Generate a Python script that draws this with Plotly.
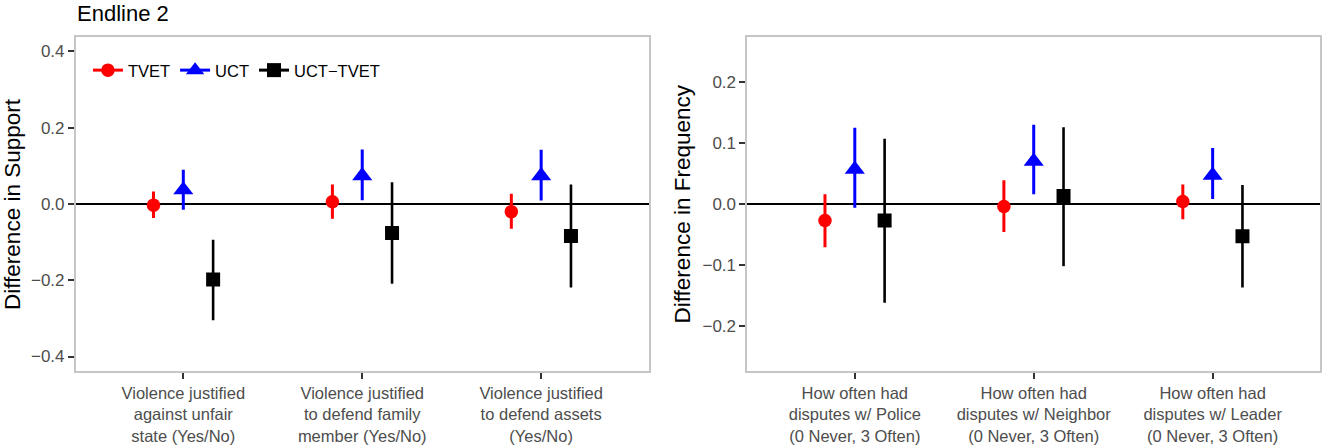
import plotly.graph_objects as go

# ---------------- data ----------------
left_categories = [
    "Violence justified<br>against unfair<br>state (Yes/No)",
    "Violence justified<br>to defend family<br>member (Yes/No)",
    "Violence justified<br>to defend assets<br>(Yes/No)",
]
right_categories = [
    "How often had<br>disputes w/ Police<br>(0 Never, 3 Often)",
    "How often had<br>disputes w/ Neighbor<br>(0 Never, 3 Often)",
    "How often had<br>disputes w/ Leader<br>(0 Never, 3 Often)",
]
series_names = ["TVET", "UCT", "UCT\u2212TVET"]

# Left panel: Difference in Support
left_tvet_est = [-0.003, 0.006, -0.020]
left_tvet_lo = [-0.037, -0.039, -0.065]
left_tvet_hi = [0.033, 0.051, 0.027]
left_uct_est = [0.037, 0.074, 0.074]
left_uct_lo = [-0.015, 0.010, 0.009]
left_uct_hi = [0.090, 0.143, 0.142]
left_diff_est = [-0.198, -0.076, -0.084]
left_diff_lo = [-0.305, -0.209, -0.219]
left_diff_hi = [-0.094, 0.057, 0.051]

# Right panel: Difference in Frequency
right_tvet_est = [-0.027, -0.004, 0.004]
right_tvet_lo = [-0.071, -0.046, -0.025]
right_tvet_hi = [0.016, 0.039, 0.032]
right_uct_est = [0.057, 0.070, 0.047]
right_uct_lo = [-0.006, 0.016, 0.008]
right_uct_hi = [0.125, 0.130, 0.092]
right_diff_est = [-0.027, 0.013, -0.053]
right_diff_lo = [-0.162, -0.102, -0.137]
right_diff_hi = [0.107, 0.126, 0.031]

left_yticks = [-0.4, -0.2, 0.0, 0.2, 0.4]
right_yticks = [-0.2, -0.1, 0.0, 0.1, 0.2]

# ---------------- style ----------------
colors = ["#ff0000", "#0000ff", "#000000"]
symbols = ["circle", "triangle-up", "square"]
msizes = [13.5, 17.5, 14]
bar_w = [3, 3, 2.6]
dodge = [-1 / 6, 0.0, 1 / 6]
FONT = "Liberation Sans, Arial, Helvetica, sans-serif"
W, H = 1322, 445
T, B = 37, 68
plot_h = H - T - B

fig = go.Figure()


def add_panel(xa, ya, series):
    for k, (est, lo, hi) in enumerate(series):
        xs = [i + 1 + dodge[k] for i in range(len(est))]
        fig.add_trace(go.Scatter(
            x=xs, y=est, mode="markers", xaxis=xa, yaxis=ya,
            showlegend=False, hoverinfo="skip",
            marker=dict(symbol=symbols[k], size=msizes[k], color=colors[k],
                        line=dict(width=0)),
            error_y=dict(type="data", symmetric=False,
                         array=[h - e for h, e in zip(hi, est)],
                         arrayminus=[e - l for e, l in zip(est, lo)],
                         width=0, thickness=bar_w[k], color=colors[k]),
        ))


add_panel("x", "y", [
    (left_tvet_est, left_tvet_lo, left_tvet_hi),
    (left_uct_est, left_uct_lo, left_uct_hi),
    (left_diff_est, left_diff_lo, left_diff_hi),
])
add_panel("x2", "y2", [
    (right_tvet_est, right_tvet_lo, right_tvet_hi),
    (right_uct_est, right_uct_lo, right_uct_hi),
    (right_diff_est, right_diff_lo, right_diff_hi),
])

# legend-only entries (line through marker like ggplot pointrange key)
for k, name in enumerate(series_names):
    fig.add_trace(go.Scatter(
        x=[None], y=[None], mode="lines+markers", name=name,
        xaxis="x", yaxis="y",
        line=dict(color=colors[k], width=3),
        marker=dict(symbol=symbols[k], size=msizes[k], color=colors[k]),
    ))

axis_common = dict(
    showline=True, linecolor="#c6c6c6", linewidth=2, mirror=True,
    ticks="outside", ticklen=6, tickwidth=1.6, tickcolor="#333333",
    showgrid=False,
)
ytickfont = dict(family=FONT, size=17, color="#4d4d4d")
xtickfont = dict(family=FONT, size=16.5, color="#4d4d4d")

fig.update_layout(
    width=W, height=H,
    margin=dict(l=0, r=0, t=T, b=B),
    paper_bgcolor="white", plot_bgcolor="white",
    font=dict(family=FONT, color="black"),
    xaxis=dict(domain=[76 / W, 649 / W], range=[0.4, 3.6],
               tickvals=[1, 2, 3], ticktext=left_categories,
               tickfont=xtickfont, zeroline=False, anchor="y", **axis_common),
    yaxis=dict(domain=[0, 1], range=[-0.438, 0.438], tickvals=left_yticks,
               tickformat=".1f", tickfont=ytickfont,
               zeroline=True, zerolinecolor="black",
               zerolinewidth=2, anchor="x", **axis_common),
    xaxis2=dict(domain=[748 / W, 1321 / W], range=[0.4, 3.6],
                tickvals=[1, 2, 3], ticktext=right_categories,
                tickfont=xtickfont, zeroline=False, anchor="y2", **axis_common),
    yaxis2=dict(domain=[0, 1], range=[-0.274, 0.274], tickvals=right_yticks,
                tickformat=".1f", tickfont=ytickfont,
                zeroline=True, zerolinecolor="black",
                zerolinewidth=2, anchor="x2", **axis_common),
    showlegend=True,
    legend=dict(orientation="h", x=88 / W, y=1 - (71 - T) / plot_h,
                xanchor="left", yanchor="middle",
                bgcolor="rgba(0,0,0,0)", borderwidth=0,
                font=dict(family=FONT, size=16.5, color="black"),
                itemwidth=30, tracegroupgap=0),
)

fig.add_annotation(text="Endline 2", xref="paper", yref="paper",
                   x=75 / W, y=1 + (T - 13) / plot_h, xanchor="left",
                   yanchor="middle", showarrow=False,
                   font=dict(family=FONT, size=22, color="black"))
fig.add_annotation(text="Difference in Support", xref="paper", yref="paper",
                   x=12 / W, y=0.5, xanchor="center", yanchor="middle",
                   textangle=-90, showarrow=False,
                   font=dict(family=FONT, size=22.5, color="black"))
fig.add_annotation(text="Difference in Frequency", xref="paper", yref="paper",
                   x=683 / W, y=0.5, xanchor="center", yanchor="middle",
                   textangle=-90, showarrow=False,
                   font=dict(family=FONT, size=22.5, color="black"))

fig.write_html(
    "out.html",
    config={"displayModeBar": False},
    post_script="document.body.style.margin='0';"
                "document.body.style.padding='0';"
                "document.body.style.overflow='hidden';",
)
